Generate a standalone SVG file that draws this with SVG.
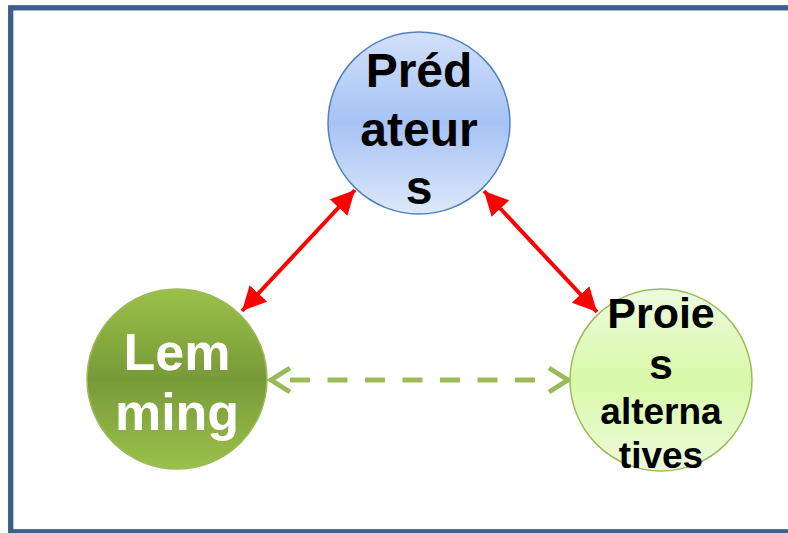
<svg xmlns="http://www.w3.org/2000/svg" width="788" height="533" viewBox="0 0 788 533">
<defs>
<linearGradient id="gBlue" x1="0" y1="0" x2="0" y2="1">
<stop offset="0" stop-color="#d2e0fa"/>
<stop offset="0.5" stop-color="#a6c3f5"/>
<stop offset="1" stop-color="#dde8fb"/>
</linearGradient>
<linearGradient id="gDark" x1="0" y1="0" x2="0" y2="1">
<stop offset="0" stop-color="#9cc04a"/>
<stop offset="0.5" stop-color="#789a38"/>
<stop offset="1" stop-color="#9cc04a"/>
</linearGradient>
<linearGradient id="gLight" x1="0" y1="0" x2="0" y2="1">
<stop offset="0" stop-color="#eefbe0"/>
<stop offset="0.5" stop-color="#d8f9a8"/>
<stop offset="1" stop-color="#edfbdc"/>
</linearGradient>
<marker id="redHead" markerWidth="6" markerHeight="6" refX="6" refY="3" orient="auto-start-reverse" markerUnits="strokeWidth">
<path d="M0,0 L6,3 L0,6 Z" fill="#ff0000"/>
</marker>
</defs>
<style>
.t{font-family:"Liberation Sans",Arial,sans-serif;font-weight:bold;text-anchor:middle}
.red{stroke:#ff0000;stroke-width:4;fill:none}
.gr{stroke:#9bbb59;stroke-width:5;fill:none}
</style>
<rect x="10.7" y="7.8" width="790" height="524" fill="#ffffff" stroke="#3d5f8c" stroke-width="5.3"/>
<g id="connectors">
<line class="red" x1="242" y1="311" x2="355" y2="190" marker-start="url(#redHead)" marker-end="url(#redHead)"/>
<line class="red" x1="484" y1="191" x2="597" y2="312" marker-start="url(#redHead)" marker-end="url(#redHead)"/>
<line class="gr" x1="290" y1="380" x2="550" y2="380" stroke-dasharray="20 17.5"/>
<polyline class="gr" points="290,368 271,380 290,392"/>
<polyline class="gr" points="549,368 568,380 549,392"/>
</g>
<g id="predateurs">
<circle cx="419" cy="123" r="91" fill="url(#gBlue)" stroke="#4f81bd" stroke-width="1.5"/>
<text class="t" x="419" y="87" font-size="48" fill="#000">Préd</text>
<text class="t" x="419" y="146" font-size="48" fill="#000">ateur</text>
<text class="t" x="419" y="204" font-size="48" fill="#000">s</text>
</g>
<g id="lemming">
<circle cx="177" cy="379" r="90" fill="url(#gDark)" stroke="#9bbb59" stroke-width="1.5"/>
<text class="t" x="177" y="370" font-size="52" fill="#ffffff">Lem</text>
<text class="t" x="177" y="430" font-size="52" fill="#ffffff">ming</text>
</g>
<g id="proies">
<circle cx="661" cy="380" r="91" fill="url(#gLight)" stroke="#9bbb59" stroke-width="1.5"/>
<text class="t" x="661" y="328" font-size="43" fill="#000">Proie</text>
<text class="t" x="661" y="379" font-size="43" fill="#000">s</text>
<text class="t" x="661" y="424" font-size="37" fill="#000">alterna</text>
<text class="t" x="661" y="468" font-size="37" fill="#000">tives</text>
</g>
</svg>
